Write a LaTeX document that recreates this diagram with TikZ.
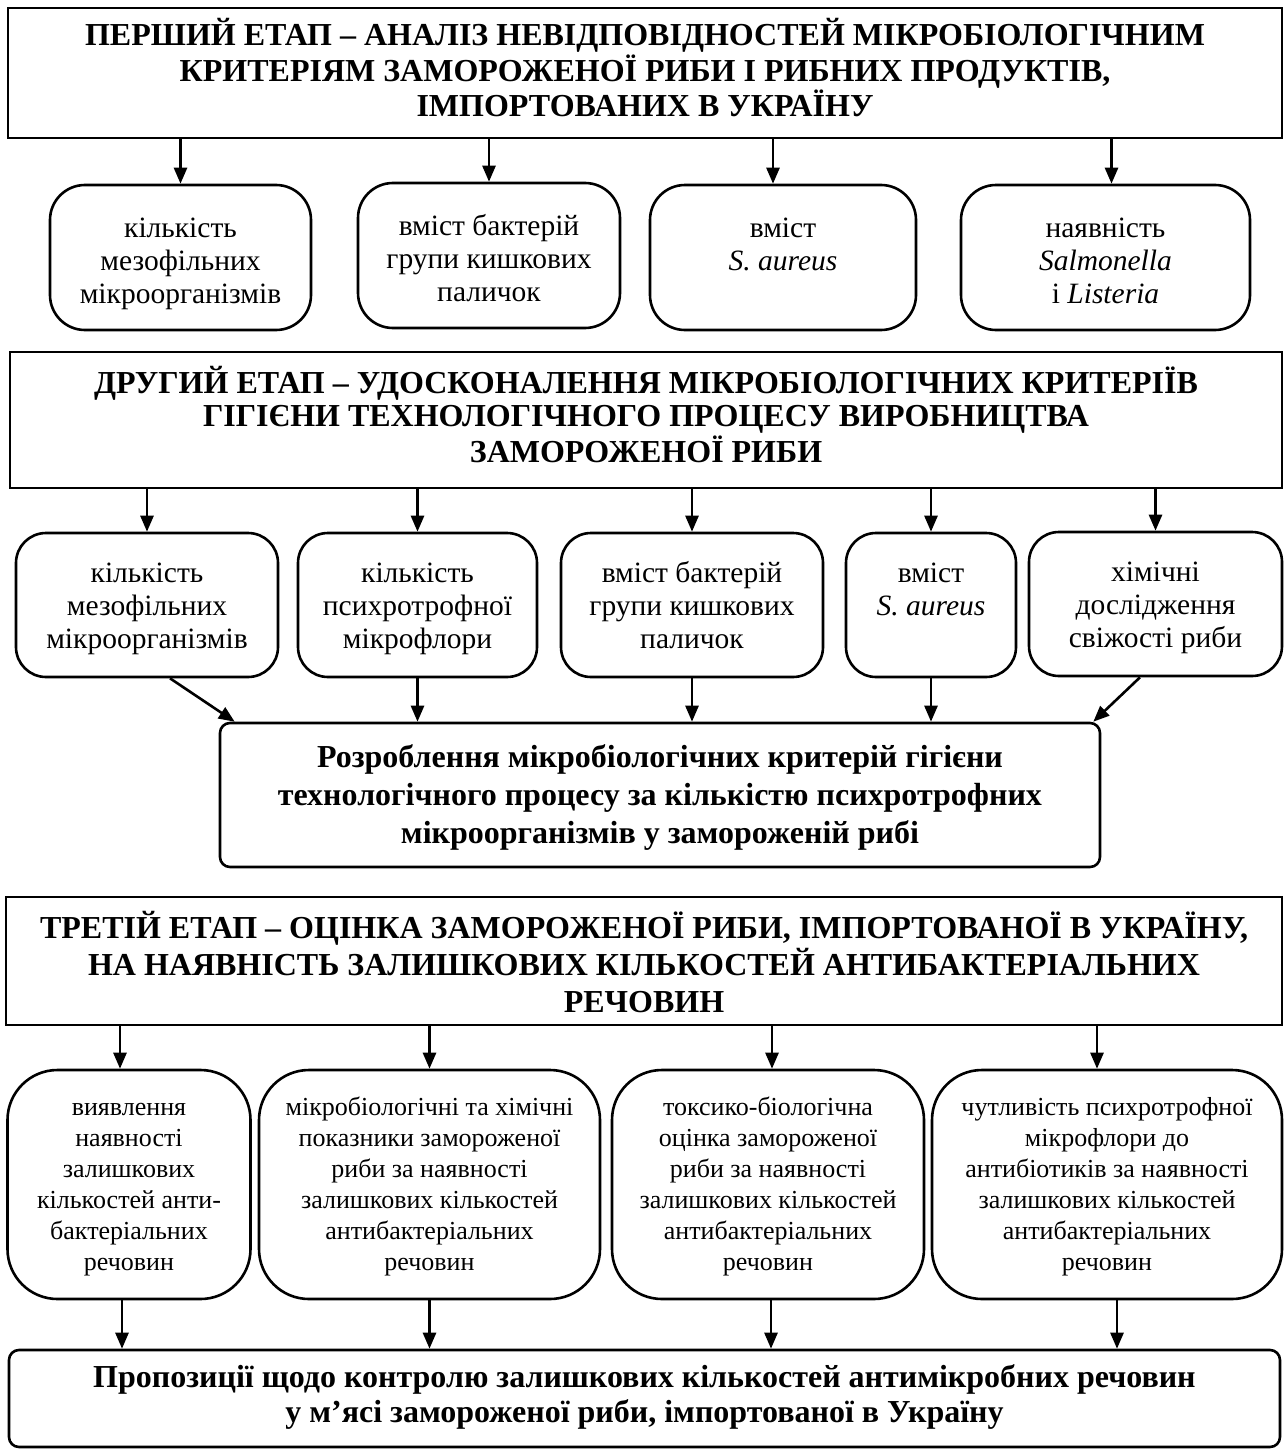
\documentclass[tikz,border=0pt]{standalone}
\usepackage{fontspec}
\setmainfont{Liberation Serif}
\usetikzlibrary{arrows.meta}

\begin{document}
\begin{tikzpicture}
        [x=0.5pt,y=-0.5pt,line width=1.3pt,>={Triangle[length=8pt,width=6.5pt]},
         every node/.style={draw,align=center,inner sep=0,text depth=0pt,font=\fontsize{14.75}{16.5}\selectfont},
         stage/.style={rectangle,font=\fontsize{16}{16.5}\selectfont\bfseries},
         result/.style={rounded corners=5pt,minimum height=72pt,font=\fontsize{16}{19}\selectfont\bfseries},
         item/.style={rounded corners=17.5pt,minimum height=72.5pt,text height=45.5pt},
         item2/.style={rounded corners=15pt,minimum height=72pt,text height=43pt},
         item3/.style={rounded corners=25pt,minimum height=114.5pt,text height=85.5pt,font=\fontsize{13}{15.5}\selectfont}]

        \useasboundingbox (0,0) rectangle (1285,1450);

        \node[stage,minimum width=637pt,minimum height=65pt,text height=43.5pt] (1) at (645,73)
          {ПЕРШИЙ ЕТАП – АНАЛІЗ НЕВІДПОВІДНОСТЕЙ МІКРОБІОЛОГІЧНИМ\\КРИТЕРІЯМ ЗАМОРОЖЕНОЇ РИБИ І РИБНИХ ПРОДУКТІВ,\\ІМПОРТОВАНИХ В УКРАЇНУ};
        \node[item,minimum width=130.5pt] (11) at (180.5,257.5) {кількість\\мезофільних\\мікроорганізмів};
        \node[item,minimum width=131pt] (12) at (489,255.5) {вміст бактерій\\групи кишкових\\паличок};
        \node[item,minimum width=133pt] (13) at (783,257.5) {вміст\\\textit{S. aureus}\\~};
        \node[item,minimum width=144.5pt] (14) at (1105.5,257.5) {наявність\\\textit{Salmonella}\\і \textit{Listeria}};

        \node[stage,minimum width=636pt,minimum height=68pt,text height=42pt] (2) at (646,420)
          {ДРУГИЙ ЕТАП – УДОСКОНАЛЕННЯ МІКРОБІОЛОГІЧНИХ КРИТЕРІЇВ\\ГІГІЄНИ ТЕХНОЛОГІЧНОГО ПРОЦЕСУ ВИРОБНИЦТВА\\ЗАМОРОЖЕНОЇ РИБИ};
        \node[item2,minimum width=131pt] (21) at (147,605) {кількість\\мезофільних\\мікроорганізмів};
        \node[item2,minimum width=119.5pt] (22) at (417.5,605) {кількість\\психротрофної\\мікрофлори};
        \node[item2,minimum width=131pt] (23) at (692,605) {вміст бактерій\\групи кишкових\\паличок};
        \node[item2,minimum width=85pt] (24) at (931,605) {вміст\\\textit{S. aureus}\\~};
        \node[item2,minimum width=126.5pt] (25) at (1155.5,604) {хімічні\\дослідження\\свіжості риби};
        \node[result,minimum width=440pt,text height=48pt] (26) at (660,795)
          {Розроблення мікробіологічних критерій гігієни\\технологічного процесу за кількістю психротрофних\\мікроорганізмів у замороженій рибі};

        \node[stage,minimum width=638pt,minimum height=64pt,text height=51pt,font=\fontsize{16}{18.5}\selectfont\bfseries] (3) at (644,961)
          {ТРЕТІЙ ЕТАП – ОЦІНКА ЗАМОРОЖЕНОЇ РИБИ, ІМПОРТОВАНОЇ В УКРАЇНУ,\\НА НАЯВНІСТЬ ЗАЛИШКОВИХ КІЛЬКОСТЕЙ АНТИБАКТЕРІАЛЬНИХ\\РЕЧОВИН};
        \node[item3,minimum width=121.5pt] (31) at (129,1184.5)
          {виявлення\\наявності\\залишкових\\кількостей анти-\\бактеріальних\\речовин};
        \node[item3,minimum width=170.5pt] (32) at (429.5,1184.5)
          {мікробіологічні та хімічні\\показники замороженої\\риби за наявності\\залишкових кількостей\\антибактеріальних\\речовин};
        \node[item3,minimum width=156pt] (33) at (768,1184.5)
          {токсико-біологічна\\оцінка замороженої\\риби за наявності\\залишкових кількостей\\антибактеріальних\\речовин};
        \node[item3,minimum width=175pt] (34) at (1107,1184.5)
          {чутливість психротрофної\\мікрофлори до\\антибіотиків за наявності\\залишкових кількостей\\антибактеріальних\\речовин};
        \node[result,minimum width=635.5pt,minimum height=48.5pt,text height=23.5pt,font=\fontsize{16}{17.5}\selectfont\bfseries] (35) at (644.5,1398.5)
          {Пропозиції щодо контролю залишкових кількостей антимікробних речовин\\у м’ясі замороженої риби, імпортованої в Україну};

        \draw[->] (11.north |- 1.south) -- (11.north);
        \draw[->] (12.north |- 1.south) -- (12.north);
        \draw[->] ([xshift=-5pt]13.north |- 1.south) -- ([xshift=-5pt]13.north);
        \draw[->] ([xshift=3pt]14.north |- 1.south) -- ([xshift=3pt]14.north);

        \draw[->] (21.north |- 2.south) -- (21.north);
        \draw[->] (22.north |- 2.south) -- (22.north);
        \draw[->] (23.north |- 2.south) -- (23.north);
        \draw[->] (24.north |- 2.south) -- (24.north);
        \draw[->] (25.north |- 2.south) -- (25.north);

        \draw[->] ([xshift=11.5pt]21.south) -- ([xshift=8pt]26.north west);
        \draw[->] (22.south) -- (22.south |- 26.north);
        \draw[->] (23.south) -- (23.south |- 26.north);
        \draw[->] (24.south) -- (24.south |- 26.north);
        \draw[->] ([xshift=-7.75pt]25.south) -- ([xshift=-4pt]26.north east);

        \draw[->] ([xshift=-4.5pt]31.north |- 3.south) -- ([xshift=-4.5pt]31.north);
        \draw[->] (32.north |- 3.south) -- (32.north);
        \draw[->] ([xshift=2pt]33.north |- 3.south) -- ([xshift=2pt]33.north);
        \draw[->] ([xshift=-5pt]34.north |- 3.south) -- ([xshift=-5pt]34.north);

        \draw[->] ([xshift=-3.5pt]31.south) -- ([xshift=-3.5pt]31.south |- 35.north);
        \draw[->] (32.south) -- (32.south |- 35.north);
        \draw[->] ([xshift=1.5pt]33.south) -- ([xshift=1.5pt]33.south |- 35.north);
        \draw[->] ([xshift=5pt]34.south) -- ([xshift=5pt]34.south |- 35.north);
      \end{tikzpicture}
\end{document}
